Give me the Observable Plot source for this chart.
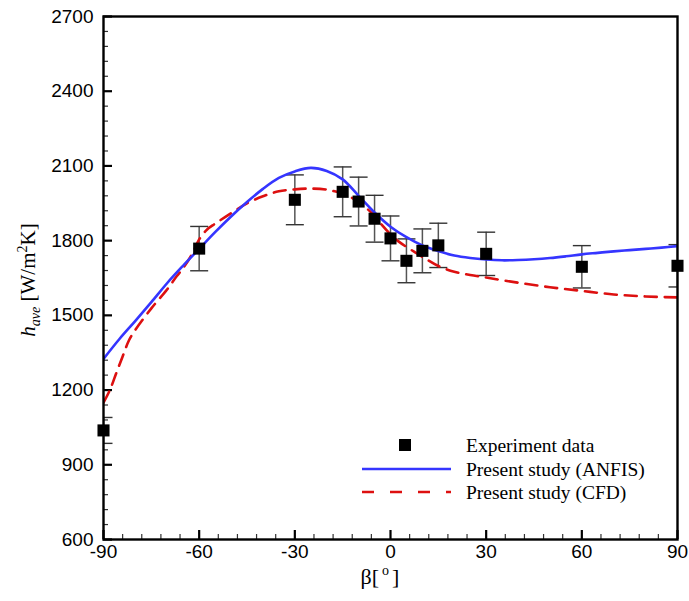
<!DOCTYPE html>
<html><head><meta charset="utf-8">
<script src="https://cdn.jsdelivr.net/npm/d3@7"></script>
<script src="https://cdn.jsdelivr.net/npm/@observablehq/plot@0.6"></script>
<style>
body{margin:0;background:#fff;}
#chart{width:689px;height:601px;}
</style></head><body><div id="chart"></div>
<script>
// ---- data ----
const yTicks = [600, 900, 1200, 1500, 1800, 2100, 2400, 2700];
const yMinorTicks = [660,720,780,840,960,1020,1080,1140,1260,1320,1380,1440,1560,1620,1680,1740,1860,1920,1980,2040,2160,2220,2280,2340,2460,2520,2580,2640];
const xTicks = [-90, -60, -30, 0, 30, 60, 90];
const xMinorTicks = [-84,-78,-72,-66,-54,-48,-42,-36,-24,-18,-12,-6,6,12,18,24,36,42,48,54,66,72,78,84];

const expBeta = [-90, -60, -30, -15, -10, -5, 0, 5, 10, 15, 30, 60, 90];
const expH    = [1038, 1768, 1964, 1996, 1957, 1888, 1809, 1719, 1759, 1781, 1747, 1695, 1699];
const expErr  = [52, 89, 100, 100, 98, 94, 90, 88, 88, 89, 87, 85, 85];

const anfisBeta = [-90,-85,-80,-75,-70,-65,-60,-55,-50,-45,-40,-35,-30,-25,-20,-15,-10,-5,0,5,10,15,20,25,30,35,40,45,50,55,60,65,70,75,80,85,90];
const anfisH    = [1325,1405,1478,1553,1630,1700,1767,1834,1897,1955,2008,2052,2078,2092,2080,2046,1980,1913,1856,1814,1781,1758,1740,1730,1724,1721,1722,1725,1730,1737,1745,1751,1757,1762,1767,1772,1778];

const cfdBeta = [-90,-88,-86,-84,-82,-80,-75,-70,-67,-65,-62,-60,-57.5,-55,-50,-45,-40,-35,-30,-25,-20,-17.5,-15,-12.5,-10,-7.5,-5,-2.5,0,2.5,5,7.5,10,15,20,25,30,40,50,60,70,80,90];
const cfdH    = [1150,1200,1268,1335,1400,1442,1528,1605,1658,1690,1751,1805,1845,1868,1910,1950,1978,1998,2006,2009,2005,1998,1990,1975,1955,1930,1900,1860,1825,1797,1775,1755,1735,1698,1675,1662,1652,1631,1613,1598,1584,1576,1572];

const legendLabels = ["Experiment data", "Present study (ANFIS)", "Present study (CFD)"];

// ---- tables ----
const exp = expBeta.map((b, i) => ({b, h: expH[i], lo: expH[i] - expErr[i], hi: expH[i] + expErr[i]}));
const anfis = anfisBeta.map((b, i) => ({b, h: anfisH[i]}));
const cfd = cfdBeta.map((b, i) => ({b, h: cfdH[i]}));

const W = 689, H = 601, mL = 103, mR = 12, mT = 16, mB = 62;
const blue = "#3535ff", red = "#dd1010";
const fmt = d => String(d);

const capSymbol = {draw(ctx, size) { const r = Math.sqrt(size / Math.PI); ctx.moveTo(-r, 0); ctx.lineTo(r, 0); }};

const chart = Plot.plot({
  width: W, height: H,
  marginLeft: mL, marginRight: mR, marginTop: mT, marginBottom: mB,
  style: {fontFamily: "'Liberation Sans', Arial, sans-serif", fontSize: "19px", color: "black", background: "white"},
  x: {domain: [-90, 90]},
  y: {domain: [600, 2700]},
  marks: [
    Plot.axisY({ticks: yTicks, tickSize: 0, tickPadding: 10, label: null, fontSize: 19, tickFormat: fmt}),
    Plot.axisX({ticks: xTicks, tickSize: 0, tickPadding: 5, label: null, fontSize: 19, tickFormat: fmt}),
    Plot.axisY({ticks: yMinorTicks, tickSize: 5, dx: 5, text: null, label: null, stroke: "#333", strokeWidth: 1.2}),
    Plot.axisY({ticks: yTicks, tickSize: 9, dx: 9, text: null, label: null, stroke: "black", strokeWidth: 2.2}),
    Plot.axisX({ticks: xMinorTicks, tickSize: 5, dy: -5, text: null, label: null, stroke: "#333", strokeWidth: 1.2}),
    Plot.axisX({ticks: xTicks, tickSize: 9, dy: -9, text: null, label: null, stroke: "black", strokeWidth: 2.2}),
    Plot.ruleX(exp, {x: "b", y1: "lo", y2: "hi", stroke: "#555", strokeWidth: 1.5, clip: true}),
    Plot.dot(exp, {x: "b", y: "hi", symbol: capSymbol, r: 9, stroke: "#333", strokeWidth: 1.4, fill: "none", clip: true}),
    Plot.dot(exp, {x: "b", y: "lo", symbol: capSymbol, r: 9, stroke: "#333", strokeWidth: 1.4, fill: "none", clip: true}),
    Plot.line(cfd, {x: "b", y: "h", stroke: red, strokeWidth: 2.6, strokeDasharray: "12,8", curve: "catmull-rom", clip: true}),
    Plot.line(anfis, {x: "b", y: "h", stroke: blue, strokeWidth: 2.6, curve: "catmull-rom", clip: true}),
    Plot.dot(exp, {x: "b", y: "h", symbol: "square", r: 6.8, fill: "black", stroke: "none"}),
    Plot.frame({stroke: "black", strokeWidth: 2.4})
  ]
});
document.getElementById("chart").appendChild(chart);

const svg = d3.select(chart);
const serif = "'Liberation Serif', 'Times New Roman', serif";

const yl = svg.append("text")
  .attr("transform", "translate(35,280) rotate(-90)")
  .attr("text-anchor", "middle")
  .attr("font-family", serif).attr("font-size", 21).attr("fill", "black");
yl.append("tspan").attr("font-style", "italic").text("h");
yl.append("tspan").attr("font-style", "italic").attr("font-size", 14).attr("dy", 5).text("ave");
yl.append("tspan").attr("dy", -5).text(" [W/m");
yl.append("tspan").attr("font-size", 14).attr("dy", -8).text("2");
yl.append("tspan").attr("dy", 8).text("K]");

const xl = svg.append("text")
  .attr("x", 380).attr("y", 584)
  .attr("text-anchor", "middle")
  .attr("font-family", serif).attr("font-size", 22).attr("fill", "black");
xl.append("tspan").text("β[");
xl.append("tspan").attr("font-size", 14).attr("dy", -9).attr("dx", 3).text("o");
xl.append("tspan").attr("dy", 9).attr("dx", 3).text("]");

const lg = svg.append("g").attr("font-family", serif).attr("font-size", 19.5).attr("fill", "black").attr("text-anchor", "start");
const rows = [445, 469, 492];
lg.append("rect").attr("x", 399).attr("y", rows[0] - 6).attr("width", 12).attr("height", 12).attr("fill", "black");
lg.append("line").attr("x1", 362).attr("x2", 451).attr("y1", rows[1]).attr("y2", rows[1]).attr("stroke", blue).attr("stroke-width", 2.6);
lg.append("line").attr("x1", 362).attr("x2", 451).attr("y1", rows[2]).attr("y2", rows[2]).attr("stroke", red).attr("stroke-width", 2.6).attr("stroke-dasharray", "12,16");
legendLabels.forEach((t, i) => {
  lg.append("text").attr("x", 466).attr("y", rows[i]).attr("dy", "0.35em").attr("text-anchor", "start").text(t);
});
</script>
</body></html>
